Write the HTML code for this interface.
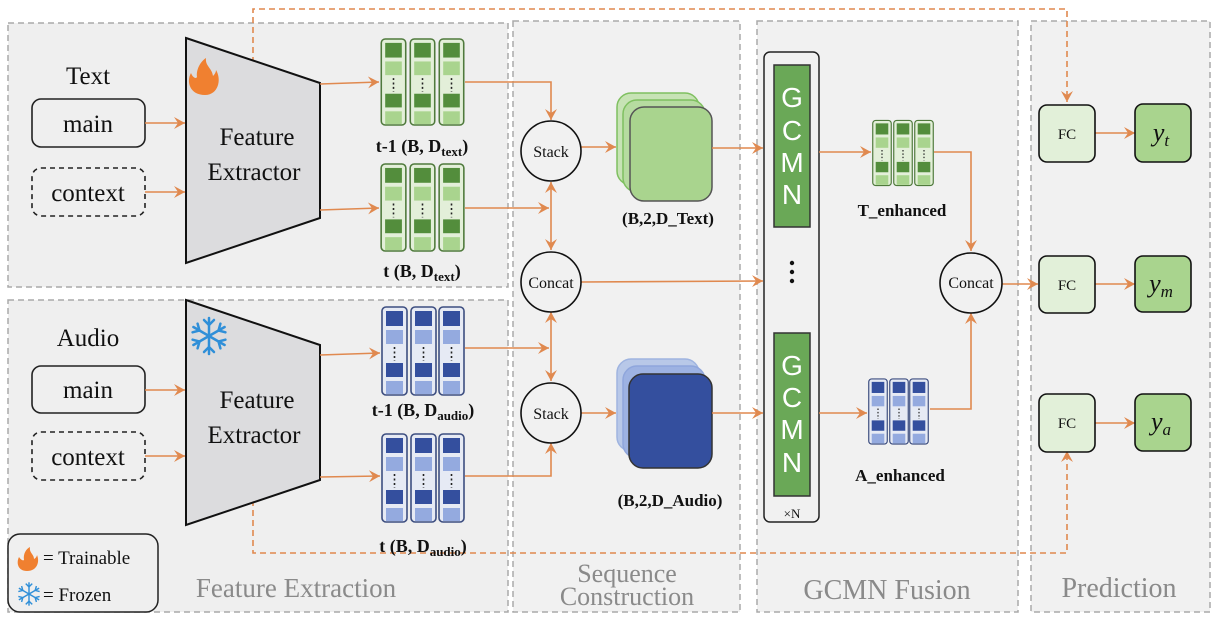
<!DOCTYPE html>
<html><head><meta charset="utf-8"><style>
html,body{margin:0;padding:0;background:#fff;}
svg{display:block;}
text{font-family:"Liberation Serif",serif;}
text.sans{font-family:"Liberation Sans",sans-serif;}
</style></head><body>
<svg width="1222" height="624" viewBox="0 0 1222 624" xmlns="http://www.w3.org/2000/svg">
<defs>
<marker id="ar" viewBox="0 0 12 12" refX="11" refY="6" markerWidth="12" markerHeight="12" markerUnits="userSpaceOnUse" orient="auto-start-reverse">
<path d="M0,0 L11,6 L0,12 L4,6 Z" fill="#e0894f"/></marker>
<symbol id="gcol" viewBox="0 0 27 90">
<rect x="1" y="1" width="25" height="88" rx="4" fill="#e3efd9" stroke="#4f7a3c" stroke-width="1.6"/>
<rect x="5" y="5" width="17" height="15" fill="#538d3c"/><rect x="5" y="24" width="17" height="14" fill="#a9d48e"/>
<line x1="13.5" y1="41" x2="13.5" y2="55" stroke="#222" stroke-width="1.6" stroke-dasharray="2,2.5"/>
<rect x="5" y="57" width="17" height="14" fill="#538d3c"/><rect x="5" y="75" width="17" height="13" fill="#a9d48e"/>
</symbol>
<symbol id="bcol" viewBox="0 0 27 90">
<rect x="1" y="1" width="25" height="88" rx="4" fill="#e6eaf4" stroke="#3d4e80" stroke-width="1.6"/>
<rect x="5" y="5" width="17" height="15" fill="#344f9e"/><rect x="5" y="24" width="17" height="14" fill="#94aadf"/>
<line x1="13.5" y1="41" x2="13.5" y2="55" stroke="#222" stroke-width="1.6" stroke-dasharray="2,2.5"/>
<rect x="5" y="57" width="17" height="14" fill="#344f9e"/><rect x="5" y="75" width="17" height="13" fill="#94aadf"/>
</symbol>
<g id="snow">
<line x1="0" y1="-18" x2="0" y2="18"/><line x1="-15.6" y1="-9" x2="15.6" y2="9"/><line x1="-15.6" y1="9" x2="15.6" y2="-9"/>
<polyline points="-5,-16 0,-11 5,-16"/><polyline points="-5,16 0,11 5,16"/>
<polyline points="-11.4,-12.3 -9.5,-5.5 -16.4,-3.7"/><polyline points="11.4,12.3 9.5,5.5 16.4,3.7"/>
<polyline points="11.4,-12.3 9.5,-5.5 16.4,-3.7"/><polyline points="-11.4,12.3 -9.5,5.5 -16.4,3.7"/>
</g>
</defs>
<g fill="#efefef" stroke="#aaa" stroke-width="1.5" stroke-dasharray="6,4">
<rect x="8" y="23" width="500" height="264"/>
<rect x="8" y="300" width="500" height="312"/>
<rect x="513" y="21" width="227" height="591" fill="#f1f1f1"/>
<rect x="757" y="21" width="261" height="591" fill="#f1f1f1"/>
<rect x="1031" y="21" width="179" height="591" fill="#f1f1f1"/>
</g>
<g fill="none" stroke="#e0894f" stroke-width="1.6" stroke-dasharray="6,4">
<polyline points="253,83 253,9 1067,9 1067,102" marker-end="url(#ar)"/>
<polyline points="253,500 253,553 1067,553 1067,451" marker-end="url(#ar)"/>
</g>
<polygon points="186,38 320,83 320,218 186,263" fill="#dcdcde" stroke="#111" stroke-width="2"/>
<polygon points="186,300 320,345 320,480 186,525" fill="#dcdcde" stroke="#111" stroke-width="2"/>
<g font-size="25" text-anchor="middle" fill="#111">
<text x="257" y="145">Feature</text><text x="254" y="180">Extractor</text>
<text x="257" y="408">Feature</text><text x="254" y="443">Extractor</text>
<text x="88" y="84">Text</text><text x="88" y="346">Audio</text>
</g>
<path d="M205,95 C190,95 186,82 191,73 C193,78 196,79 197,77 C196,70 200,62 206,58 C205,66 212,68 213,76 C215,74 216,72 216,70 C222,80 218,95 205,95 Z" fill="#f08030"/>
<g stroke="#2f8fd8" stroke-width="2.5" fill="none" stroke-linecap="round" transform="translate(209,336)"><use href="#snow"/></g>
<g fill="#efefef" stroke="#222" stroke-width="1.6">
<rect x="32" y="99" width="113" height="48" rx="9"/>
<rect x="32" y="168" width="113" height="48" rx="9" stroke-dasharray="5,4"/>
<rect x="32" y="366" width="113" height="47" rx="9"/>
<rect x="32" y="432" width="113" height="48" rx="9" stroke-dasharray="5,4"/>
</g>
<g font-size="25" text-anchor="middle" fill="#111">
<text x="88" y="132">main</text><text x="88" y="201">context</text>
<text x="88" y="398">main</text><text x="88" y="465">context</text>
</g>
<use href="#gcol" x="380" y="38" width="27" height="88"/><use href="#gcol" x="409" y="38" width="27" height="88"/><use href="#gcol" x="438" y="38" width="27" height="88"/>
<use href="#gcol" x="380" y="163" width="27" height="89"/><use href="#gcol" x="409" y="163" width="27" height="89"/><use href="#gcol" x="438" y="163" width="27" height="89"/>
<use href="#bcol" x="381" y="305" width="27" height="92"/><use href="#bcol" x="410" y="305" width="27" height="92"/><use href="#bcol" x="438" y="305" width="27" height="92"/>
<use href="#bcol" x="381" y="432" width="27" height="92"/><use href="#bcol" x="410" y="432" width="27" height="92"/><use href="#bcol" x="438" y="432" width="27" height="92"/>
<use href="#gcol" x="872" y="113" width="20" height="80"/><use href="#gcol" x="893" y="113" width="20" height="80"/><use href="#gcol" x="914" y="113" width="20" height="80"/>
<use href="#bcol" x="868" y="369" width="20" height="85"/><use href="#bcol" x="889" y="369" width="20" height="85"/><use href="#bcol" x="909" y="369" width="20" height="85"/>
<g font-size="18" font-weight="bold" text-anchor="middle" fill="#111">
<text x="422" y="152">t-1 (B, D<tspan font-size="13" dy="4">text</tspan><tspan dy="-4">)</tspan></text>
<text x="422" y="277">t (B, D<tspan font-size="13" dy="4">text</tspan><tspan dy="-4">)</tspan></text>
<text x="423" y="416">t-1 (B, D<tspan font-size="13" dy="4">audio</tspan><tspan dy="-4">)</tspan></text>
<text x="423" y="552">t (B, D<tspan font-size="13" dy="4">audio</tspan><tspan dy="-4">)</tspan></text>
</g>
<g font-size="17" font-weight="bold" text-anchor="middle" fill="#111">
<text x="668" y="224">(B,2,D_Text)</text><text x="670" y="506">(B,2,D_Audio)</text>
<text x="902" y="216">T_enhanced</text><text x="900" y="481">A_enhanced</text>
</g>
<rect x="617" y="93" width="82" height="92" rx="14" fill="#c7e3b5" stroke="#7fc060" stroke-width="1.5"/>
<rect x="623" y="100" width="82" height="92" rx="14" fill="#b6dba0" stroke="#7fc060" stroke-width="1.5"/>
<rect x="630" y="107" width="82" height="94" rx="14" fill="#a9d48e" stroke="#555" stroke-width="1.5"/>
<rect x="617" y="359" width="82" height="92" rx="14" fill="#b8c8e8" stroke="#9fb4e0" stroke-width="1.5"/>
<rect x="623" y="366" width="82" height="92" rx="14" fill="#9db2e2" stroke="#8fa6dc" stroke-width="1.5"/>
<rect x="629" y="374" width="83" height="94" rx="14" fill="#344f9e" stroke="#333" stroke-width="1.5"/>
<rect x="764" y="52" width="55" height="470" rx="6" fill="#f1f1f1" stroke="#222" stroke-width="1.5"/>
<rect x="774" y="65" width="36" height="162" fill="#6aa857" stroke="#333" stroke-width="1.5"/>
<rect x="774" y="333" width="36" height="163" fill="#6aa857" stroke="#333" stroke-width="1.5"/>
<g font-size="28" fill="#fff" text-anchor="middle">
<text class="sans" x="792" y="107">G</text><text class="sans" x="792" y="140">C</text><text class="sans" x="792" y="172">M</text><text class="sans" x="792" y="204">N</text>
<text class="sans" x="792" y="375">G</text><text class="sans" x="792" y="407">C</text><text class="sans" x="792" y="439">M</text><text class="sans" x="792" y="472">N</text>
</g>
<circle cx="792" cy="263" r="2.2" fill="#111"/><circle cx="792" cy="272" r="2.2" fill="#111"/><circle cx="792" cy="281" r="2.2" fill="#111"/>
<text x="792" y="518" font-size="13" text-anchor="middle" fill="#111">×N</text>
<g stroke="#e0894f" stroke-width="1.6" fill="none">
<line x1="145" y1="123" x2="185" y2="123" marker-end="url(#ar)"/>
<line x1="145" y1="192" x2="185" y2="192" marker-end="url(#ar)"/>
<line x1="145" y1="390" x2="185" y2="390" marker-end="url(#ar)"/>
<line x1="145" y1="456" x2="185" y2="456" marker-end="url(#ar)"/>
<line x1="320" y1="84" x2="379" y2="82" marker-end="url(#ar)"/>
<line x1="320" y1="210" x2="379" y2="208" marker-end="url(#ar)"/>
<line x1="320" y1="355" x2="380" y2="353" marker-end="url(#ar)"/>
<line x1="320" y1="477" x2="380" y2="476" marker-end="url(#ar)"/>
<polyline points="465,82 551,82 551,120" marker-end="url(#ar)"/>
<line x1="465" y1="208" x2="549" y2="208" marker-end="url(#ar)"/>
<line x1="551" y1="182" x2="551" y2="250" marker-start="url(#ar)" marker-end="url(#ar)"/>
<line x1="465" y1="348" x2="549" y2="348" marker-end="url(#ar)"/>
<line x1="551" y1="312" x2="551" y2="381" marker-start="url(#ar)" marker-end="url(#ar)"/>
<polyline points="465,476 551,476 551,443" marker-end="url(#ar)"/>
<line x1="581" y1="147" x2="616" y2="147" marker-end="url(#ar)"/>
<line x1="712" y1="148" x2="763" y2="148" marker-end="url(#ar)"/>
<line x1="581" y1="282" x2="763" y2="281" marker-end="url(#ar)"/>
<line x1="581" y1="413" x2="616" y2="413" marker-end="url(#ar)"/>
<line x1="712" y1="413" x2="763" y2="413" marker-end="url(#ar)"/>
<line x1="819" y1="152" x2="871" y2="152" marker-end="url(#ar)"/>
<line x1="819" y1="413" x2="867" y2="413" marker-end="url(#ar)"/>
<polyline points="934,152 971,152 971,251" marker-end="url(#ar)"/>
<polyline points="930,409 971,409 971,313" marker-end="url(#ar)"/>
<line x1="1002" y1="284" x2="1038" y2="284" marker-end="url(#ar)"/>
<line x1="1095" y1="133" x2="1135" y2="133" marker-end="url(#ar)"/>
<line x1="1095" y1="284" x2="1135" y2="284" marker-end="url(#ar)"/>
<line x1="1095" y1="423" x2="1135" y2="423" marker-end="url(#ar)"/>
</g>
<g fill="#f1f1f1" stroke="#111" stroke-width="1.6">
<circle cx="551" cy="151" r="30"/><circle cx="551" cy="282" r="30"/><circle cx="551" cy="413" r="30"/>
<ellipse cx="971" cy="283" rx="31" ry="30"/>
</g>
<g font-size="16" text-anchor="middle" fill="#111">
<text x="551" y="157">Stack</text><text x="551" y="288">Concat</text><text x="551" y="419">Stack</text>
<text x="971" y="288">Concat</text>
</g>
<g stroke="#111" stroke-width="1.6">
<rect x="1039" y="105" width="56" height="57" rx="8" fill="#e2f0d9"/>
<rect x="1039" y="256" width="56" height="57" rx="8" fill="#e2f0d9"/>
<rect x="1039" y="394" width="56" height="58" rx="8" fill="#e2f0d9"/>
<rect x="1135" y="104" width="56" height="58" rx="8" fill="#a9d48e"/>
<rect x="1135" y="256" width="56" height="56" rx="8" fill="#a9d48e"/>
<rect x="1135" y="394" width="56" height="57" rx="8" fill="#a9d48e"/>
</g>
<g font-size="15" text-anchor="middle" fill="#111">
<text x="1067" y="139">FC</text><text x="1067" y="290">FC</text><text x="1067" y="428">FC</text>
</g>
<g font-size="26" font-style="italic" fill="#111" text-anchor="middle">
<text x="1161" y="141">y<tspan font-size="17" dy="5">t</tspan></text>
<text x="1161" y="292">y<tspan font-size="17" dy="5">m</tspan></text>
<text x="1161" y="430">y<tspan font-size="17" dy="5">a</tspan></text>
</g>
<rect x="8" y="534" width="150" height="78" rx="12" fill="#efefef" stroke="#222" stroke-width="1.5"/>
<path d="M27,571 C18,571 16,563 19,557 C21,560 23,561 24,560 C23,554 26,549 30,547 C29,553 34,554 34,559 C36,558 37,556 37,555 C40,562 37,571 27,571 Z" fill="#f08030"/>
<g stroke="#2f8fd8" stroke-width="2.2" fill="none" transform="translate(29,594) scale(0.65)"><use href="#snow"/></g>
<g font-size="19" fill="#111"><text x="43" y="564">= Trainable</text><text x="43" y="601">= Frozen</text></g>
<g font-size="27" fill="#8a8a8a" text-anchor="middle">
<text x="296" y="597">Feature Extraction</text>
<text x="627" y="582" font-size="26">Sequence</text><text x="627" y="605" font-size="26">Construction</text>
<text x="887" y="599" font-size="28">GCMN Fusion</text>
<text x="1119" y="597" font-size="28">Prediction</text>
</g>
</svg>
</body></html>
